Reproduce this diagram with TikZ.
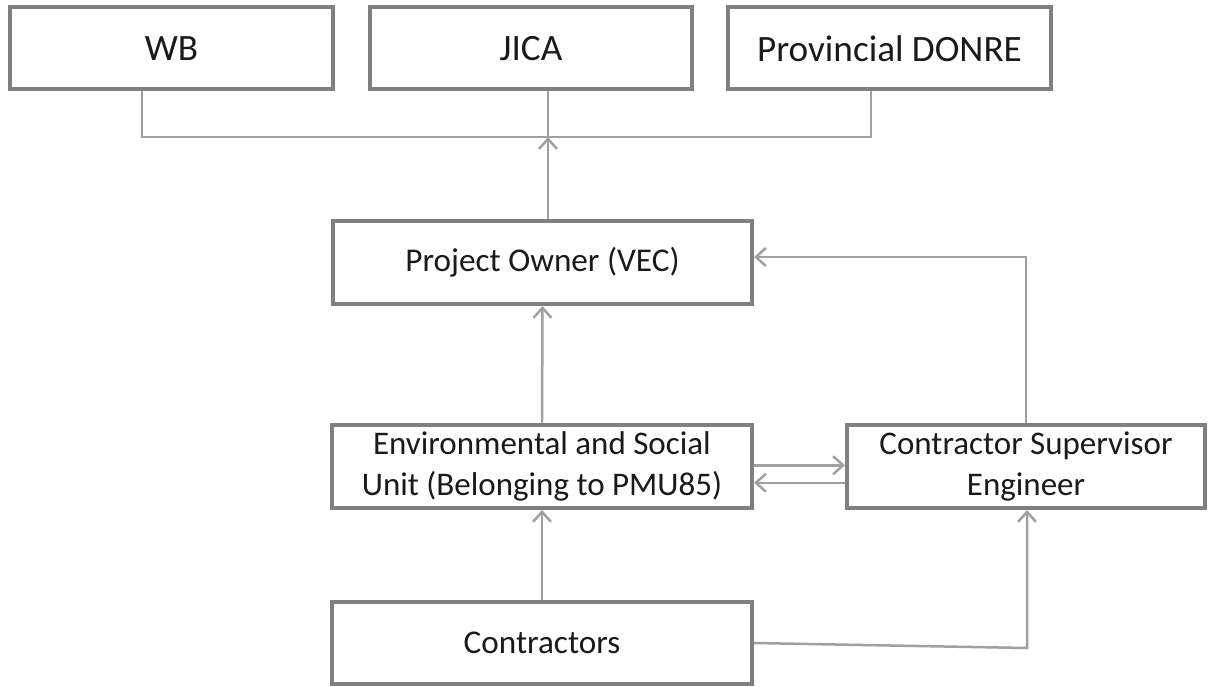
\documentclass[tikz,border=0pt]{standalone}
\usepackage{fontspec}
\setmainfont{Carlito}
\usetikzlibrary{arrows.meta}
\definecolor{boxgray}{RGB}{128,128,128}
\definecolor{linegray}{RGB}{160,160,160}
\definecolor{txt}{RGB}{26,26,26}
\begin{document}
\begin{tikzpicture}[x=0.5pt,y=-0.5pt,
  box/.style={draw=boxgray,line width=2pt,fill=white,inner sep=0pt,text=txt,align=center},
  big/.style={font=\fontsize{18.6}{22}\selectfont},
  mid/.style={font=\fontsize{16.6}{20}\selectfont},
  small/.style={font=\fontsize{16.5}{20.5}\selectfont},
  conn/.style={draw=linegray,line width=1.25pt},
  arr/.style={conn,-{Straight Barb[length=5pt,width=9pt]}}]
\useasboundingbox (0,0) rectangle (1208,686);
% top row
\node[box,big,minimum width=161.5pt,minimum height=41pt] (wb) at (171.5,48.25) {WB};
\node[box,big,minimum width=161pt,minimum height=41pt] (jica) at (531,48.25) {JICA};
\node[box,big,minimum width=161.5pt,minimum height=41pt] (dn) at (889.5,48.25) {Provincial DONRE};
% middle and lower
\node[box,mid,minimum width=209.5pt,minimum height=41.5pt] (po) at (542.5,262.5) {Project Owner (VEC)};
\node[box,small,minimum width=210pt,minimum height=41.75pt] (env) at (542,466.25) {Environmental and Social\\Unit (Belonging to PMU85)};
\node[box,small,minimum width=179pt,minimum height=41.75pt] (cse) at (1026,466.25) {Contractor Supervisor\\Engineer};
\node[box,mid,minimum width=210pt,minimum height=41pt] (ct) at (542,643) {Contractors};
% helper coordinates
\coordinate (jn) at (548,137);
\coordinate (wbx) at (142,0);
\coordinate (dnx) at (871,0);
\coordinate (cc) at (1027,648);
% connectors
\draw[conn] (wbx |- wb.south) |- (jn) -| (dnx |- dn.south);
\draw[conn] (jn) -- (jn |- jica.south);
\draw[arr] (jn |- po.north) -- (jn);
\draw[arr] (env.north) -- (po.south);
\draw[arr] (ct.north) -- (env.south);
\draw[arr] ([yshift=0.5pt]env.east) -- ([yshift=0.5pt]cse.west);
\draw[arr] ([yshift=-8.25pt]cse.west) -- ([yshift=-8.25pt]env.east);
\draw[arr] (cse.north) |- ([yshift=2.75pt]po.east);
\draw[arr] (ct.east) -- (cc) -- (cc |- cse.south);
\end{tikzpicture}
\end{document}
